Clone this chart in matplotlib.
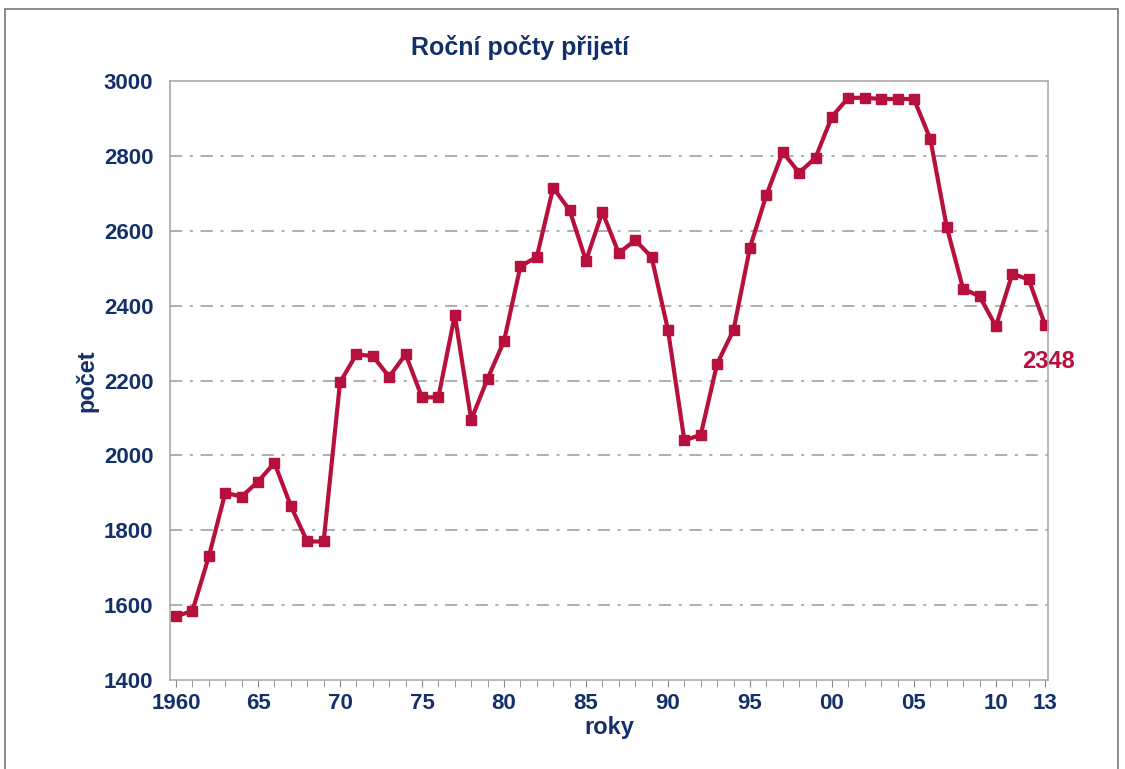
import matplotlib.pyplot as plt
from matplotlib.patches import Rectangle

years = list(range(1960, 2014))
counts = [1570, 1585, 1730, 1900, 1890, 1930, 1980, 1865, 1770, 1770,
          2195, 2270, 2265, 2210, 2270, 2155, 2155, 2375, 2095, 2205,
          2305, 2505, 2530, 2715, 2655, 2520, 2650, 2540, 2575, 2530,
          2335, 2040, 2055, 2245, 2335, 2555, 2695, 2810, 2755, 2795,
          2905, 2955, 2955, 2952, 2952, 2952, 2845, 2610, 2445, 2425,
          2345, 2485, 2470, 2348]
xticks = [1960, 1965, 1970, 1975, 1980, 1985, 1990, 1995, 2000, 2005, 2010, 2013]
xticklabels = ['1960', '65', '70', '75', '80', '85', '90', '95', '00', '05', '10', '13']
yticks = [1400, 1600, 1800, 2000, 2200, 2400, 2600, 2800, 3000]

plt.rcParams['font.family'] = ['Liberation Sans', 'DejaVu Sans']

navy = '#14306b'
red = '#b8103c'

fig = plt.figure(figsize=(11.25, 7.69), dpi=100)
ax = fig.add_axes([0.1511, 0.1157, 0.7805, 0.779])

ax.plot(years, counts, color=red, lw=3, marker='s', ms=6.5, mec=red, mfc=red)
ax.text(2014.8, 2250, '2348', color=red, fontsize=17, fontweight='bold',
        ha='right', va='center', clip_on=False)

ax.set_xlim(1959.63, 2013.18)
ax.set_ylim(1400, 3000)
ax.set_xticks(years, minor=True)
ax.set_xticks(xticks)
ax.set_xticklabels(xticklabels)
ax.set_yticks(yticks)
ax.tick_params(axis='x', which='both', direction='out', length=5, color='#888888',
               labelsize=16, labelcolor=navy, pad=4)
ax.tick_params(axis='y', length=0, labelsize=16, labelcolor=navy, pad=12)
for lab in ax.get_xticklabels() + ax.get_yticklabels():
    lab.set_fontweight('bold')

for v in yticks[1:-1]:
    ax.axhline(v, color='#999999', lw=1.1, ls=(0, (8, 5, 2, 5)), zorder=0)

for s in ax.spines.values():
    s.set_color('#aaaaaa')
    s.set_linewidth(1.2)

ax.set_xlabel('roky', fontsize=17, fontweight='bold', color=navy, labelpad=2)
ax.set_ylabel('počet', fontsize=17, fontweight='bold', color=navy, labelpad=4)
fig.text(0.462, 0.938, 'Roční počty přijetí', fontsize=18, fontweight='bold',
         color=navy, ha='center', va='center')

fig.patches.append(Rectangle((0.004, -0.01), 0.99, 0.998, transform=fig.transFigure,
                             fill=False, ec='#777777', lw=1.2))

fig.savefig('out.png', dpi=100)
